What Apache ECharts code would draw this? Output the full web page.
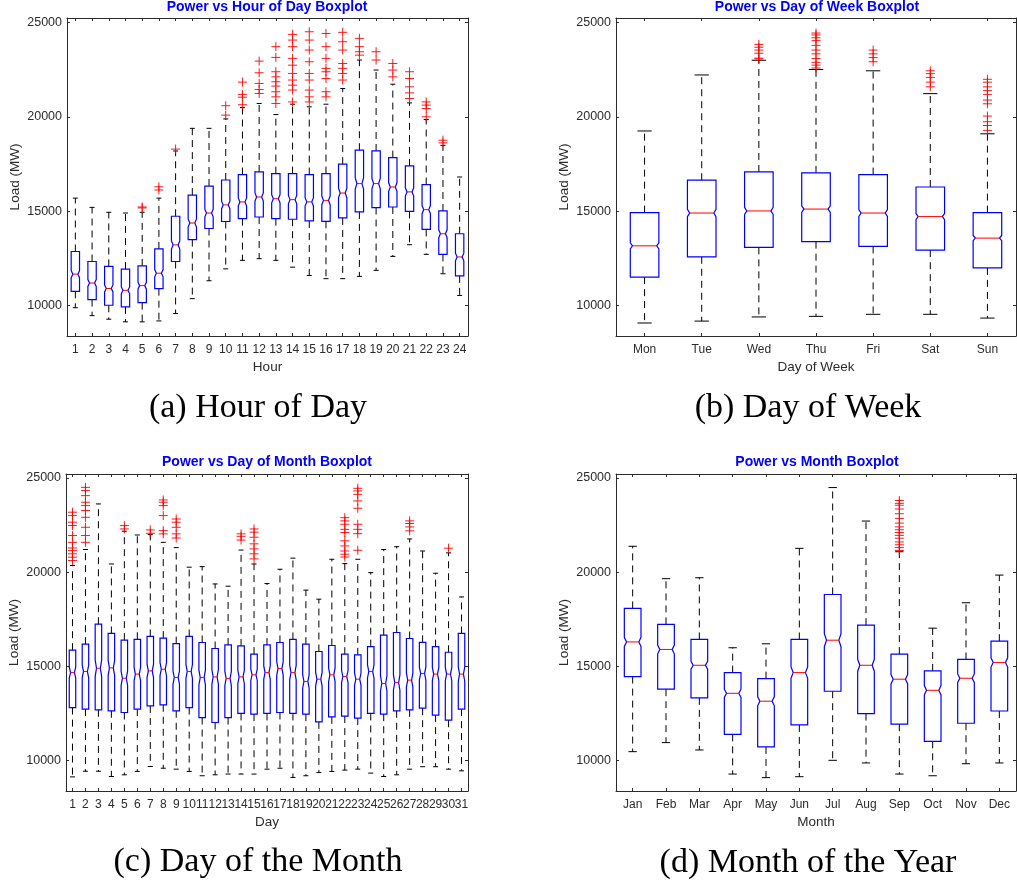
<!DOCTYPE html>
<html>
<head>
<meta charset="utf-8">
<script src="https://cdn.jsdelivr.net/npm/echarts@6/dist/echarts.min.js"></script>
<style>
  html, body { margin: 0; padding: 0; background: #ffffff; }
  #chart { width: 1017px; height: 886px; }
</style>
</head>
<body>
<div id="chart"></div>
<script>
// ---- category labels ----
const hourLabels = ['1','2','3','4','5','6','7','8','9','10','11','12','13','14','15','16','17','18','19','20','21','22','23','24'];
const weekLabels = ['Mon','Tue','Wed','Thu','Fri','Sat','Sun'];
const dayLabels = ['1','2','3','4','5','6','7','8','9','10','11','12','13','14','15','16','17','18','19','20','21','22','23','24','25','26','27','28','29','30','31'];
const monthLabels = ['Jan','Feb','Mar','Apr','May','Jun','Jul','Aug','Sep','Oct','Nov','Dec'];

// y-axis tick values (MW)
const loadTicks = [10000, 15000, 20000, 25000];

// ---- box statistics: [lower whisker, Q1, median, Q3, upper whisker] (MW) ----
const hourStats = [
  [9890, 10760, 11670, 12870, 15700],
  [9470, 10320, 11200, 12340, 15210],
  [9280, 10020, 10910, 12080, 14950],
  [9140, 9930, 10810, 11940, 14910],
  [9140, 10160, 11060, 12110, 14950],
  [9190, 10900, 11720, 13010, 15700],
  [9580, 12340, 13220, 14740, 18200],
  [10370, 13500, 14380, 15860, 19400],
  [11320, 14090, 14910, 16340, 19400],
  [11950, 14460, 15340, 16660, 19900],
  [12400, 14610, 15500, 16950, 20500],
  [12490, 14700, 15760, 17090, 20720],
  [12400, 14610, 15670, 17000, 20130],
  [12040, 14580, 15620, 17000, 20680],
  [11600, 14490, 15500, 16950, 20540],
  [11430, 14470, 15580, 17000, 20680],
  [11430, 14650, 15970, 17500, 21510],
  [11550, 14970, 16470, 18240, 23020],
  [11870, 15200, 16470, 18200, 22490],
  [12610, 15230, 16290, 17850, 21740],
  [13230, 15000, 16030, 17410, 20750],
  [12720, 14040, 15090, 16420, 19870],
  [11690, 12720, 13810, 15020, 18500],
  [10540, 11580, 12580, 13810, 16820]
];
const hourOutliers = [
  [], [], [], [], [15180, 15230], [16130, 16300], [18300], [], [], [20100, 20600],
  [20650, 21050, 21200, 21850],
  [21250, 21460, 21780, 22345, 22965],
  [20720, 21070, 21340, 21640, 21870, 22130, 22400, 23160, 23730],
  [20800, 21430, 21690, 21960, 22310, 22750, 23110, 23730, 24080, 24380],
  [20800, 21070, 21430, 21960, 22310, 22930, 23550, 24080, 24520],
  [21070, 21340, 22040, 22400, 22580, 23110, 23730, 24430],
  [21960, 22310, 22580, 22840, 23550, 23990, 24490],
  [23280, 23460, 23730, 24170],
  [23020, 23460],
  [22130, 22490, 22840],
  [20980, 21280, 21600, 22040, 22400],
  [20010, 20450, 20630, 20800],
  [18630, 18770],
  []
];

const weekStats = [
  [9080, 11510, 13170, 14930, 19260],
  [9180, 12590, 14910, 16650, 22230],
  [9400, 13090, 15020, 17090, 23010],
  [9430, 13390, 15120, 17040, 22520],
  [9540, 13140, 14910, 16950, 22450],
  [9540, 12940, 14720, 16290, 21240],
  [9340, 12000, 13580, 14930, 19110]
];
const weekOutliers = [
  [],
  [],
  [23080, 23120, 23380, 23550, 23700, 23850],
  [22600, 22750, 22900, 23100, 23350, 23550, 23800, 24050, 24200, 24350, 24450],
  [22930, 23150, 23350, 23550],
  [21600, 21850, 22100, 22300, 22450],
  [19290, 19550, 19750, 20050, 20700, 20900, 21200, 21400, 21600, 21850, 22000]
];

const dayStats = [
  [9120, 12800, 14660, 15850, 20350],
  [9420, 12720, 14720, 16170, 21200],
  [9420, 12680, 14890, 17230, 23620],
  [9140, 12630, 14910, 16740, 20430],
  [9230, 12540, 14360, 16380, 22170],
  [9410, 12720, 14580, 16430, 21970],
  [9670, 12890, 14750, 16580, 21990],
  [9580, 12950, 14840, 16490, 21580],
  [9530, 12630, 14400, 16200, 21300],
  [9410, 12800, 14720, 16580, 20260],
  [9180, 12270, 14400, 16260, 20290],
  [9230, 12010, 14430, 15940, 19370],
  [9270, 12270, 14350, 16130, 19250],
  [9270, 12490, 14430, 16080, 21170],
  [9270, 12450, 14540, 15640, 20430],
  [9530, 12490, 14660, 16130, 19390],
  [9580, 12540, 14880, 16260, 20150],
  [9090, 12490, 14660, 16420, 20740],
  [9180, 12450, 14190, 16170, 19040],
  [9350, 12040, 14310, 15780, 18560],
  [9410, 12310, 14540, 16100, 20680],
  [9480, 12350, 14450, 15640, 20450],
  [9530, 12240, 14310, 15600, 20680],
  [9320, 12490, 14720, 16040, 19970],
  [9140, 12450, 14080, 16650, 21200],
  [9230, 12630, 14130, 16790, 21350],
  [9530, 12680, 14260, 16470, 21760],
  [9660, 12770, 14610, 16270, 21120],
  [9660, 12400, 14580, 16040, 19940],
  [9530, 12130, 14580, 15740, 21020],
  [9440, 12720, 14580, 16740, 18680]
];
const dayOutliers = [
  [20610, 20790, 20970, 21140, 21280, 21580, 21940, 22470, 22650, 23000, 23180],
  [21580, 21940, 22380, 22910, 23270, 23530, 23710, 24060, 24330, 24500],
  [], [],
  [22290, 22470],
  [],
  [22060, 22240],
  [22030, 22200, 23000, 23530, 23710, 23830],
  [21810, 22030, 22380, 22650, 22820],
  [], [], [], [],
  [21700, 21900, 22030],
  [20700, 20970, 21230, 21500, 21850, 22120, 22290],
  [], [], [], [], [], [],
  [20800, 20950, 21120, 21390, 21660, 22100, 22270, 22540, 22720, 22890],
  [21160, 22040, 22270, 22540, 23390, 23780, 24130, 24310, 24450],
  [], [], [],
  [22190, 22400, 22580, 22720],
  [], [],
  [21270],
  []
];

const monthStats = [
  [10460, 14450, 16290, 18070, 21370],
  [10940, 13780, 15890, 17220, 19650],
  [10550, 13320, 15050, 16420, 19700],
  [9270, 11380, 13560, 14660, 15980],
  [9080, 10710, 13140, 14340, 16190],
  [9130, 11880, 14660, 16420, 21260],
  [10000, 13670, 16380, 18810, 24490],
  [9860, 12480, 15050, 17180, 22710],
  [9270, 11920, 14310, 15640, 21080],
  [9180, 11010, 13720, 14750, 17020],
  [9820, 11970, 14360, 15360, 18370],
  [9860, 12620, 15200, 16330, 19840]
];
const monthOutliers = [
  [], [], [], [], [], [], [], [],
  [21150, 21300, 21450, 21600, 21800, 21950, 22100, 22250, 22400, 22600, 22850, 23100, 23350, 23550, 23650, 23800],
  [], [], []
];

// samples per group, used for the notch half-height 1.57 * IQR / sqrt(n)
const hourCount = 300;
const weekCount = 1100;
const dayCount = 260;
const monthCount = 550;

// ---- drawing ----
const FONT = '"Liberation Sans", Arial, Helvetica, sans-serif';
const AXIS_COLOR = '#2b2b2b';
const BOX_BLUE = '#0000ff';
const MEDIAN_RED = '#ff0000';

const panels = [
  { labels: hourLabels, stats: hourStats, outliers: hourOutliers, count: hourCount,
    title: 'Power vs Hour of Day Boxplot', xName: 'Hour', caption: '(a) Hour of Day',
    rect: { left: 67, top: 18, width: 401, height: 318 }, yMin: 8390, yMax: 25250,
    titleAt: [267, 7], captionAt: [258, 408] },
  { labels: weekLabels, stats: weekStats, outliers: weekOutliers, count: weekCount,
    title: 'Power vs Day of Week Boxplot', xName: 'Day of Week', caption: '(b) Day of Week',
    rect: { left: 616, top: 18, width: 400, height: 318 }, yMin: 8390, yMax: 25250,
    titleAt: [817, 7], captionAt: [808, 408] },
  { labels: dayLabels, stats: dayStats, outliers: dayOutliers, count: dayCount,
    title: 'Power vs Day of Month Boxplot', xName: 'Day', caption: '(c) Day of the Month',
    rect: { left: 66, top: 474, width: 402, height: 317 }, yMin: 8370, yMax: 25210,
    titleAt: [267, 462], captionAt: [258, 862] },
  { labels: monthLabels, stats: monthStats, outliers: monthOutliers, count: monthCount,
    title: 'Power vs Month Boxplot', xName: 'Month', caption: '(d) Month of the Year',
    rect: { left: 616, top: 474, width: 400, height: 317 }, yMin: 8370, yMax: 25210,
    titleAt: [817, 462], captionAt: [808, 863] }
];

function notchedBox(count) {
  return function (params, api) {
    const idx = api.value(0);
    const lo = api.value(1), q1 = api.value(2), med = api.value(3), q3 = api.value(4), hi = api.value(5);
    const band = api.size([1, 0])[0];
    const w = band * 0.25;          // half box width
    const cw = Math.max(2.5, band * 0.125);   // half whisker-cap width
    const ind = Math.min(2.2, w * 0.4);
    const notch = 1.57 * (q3 - q1) / Math.sqrt(count);
    const at = v => api.coord([idx, v]);
    const cx = at(med)[0];
    const yLo = at(lo)[1], yQ1 = at(q1)[1], yMed = at(med)[1], yQ3 = at(q3)[1], yHi = at(hi)[1];
    const yNl = at(med - notch)[1], yNh = at(med + notch)[1];
    const dash = { stroke: '#000', lineWidth: 1, lineDash: [7, 5] };
    const solid = { stroke: '#000', lineWidth: 1 };
    return {
      type: 'group',
      children: [
        { type: 'line', shape: { x1: cx, y1: yQ3, x2: cx, y2: yHi }, style: dash },
        { type: 'line', shape: { x1: cx, y1: yQ1, x2: cx, y2: yLo }, style: dash },
        { type: 'line', shape: { x1: cx - cw, y1: yHi, x2: cx + cw, y2: yHi }, style: solid },
        { type: 'line', shape: { x1: cx - cw, y1: yLo, x2: cx + cw, y2: yLo }, style: solid },
        { type: 'polygon',
          shape: { points: [
            [cx - w, yQ1], [cx - w, yNl], [cx - w + ind, yMed], [cx - w, yNh], [cx - w, yQ3],
            [cx + w, yQ3], [cx + w, yNh], [cx + w - ind, yMed], [cx + w, yNl], [cx + w, yQ1]
          ] },
          style: { fill: 'none', stroke: BOX_BLUE, lineWidth: 1.2 } },
        { type: 'line', shape: { x1: cx - w + ind, y1: yMed, x2: cx + w - ind, y2: yMed },
          style: { stroke: MEDIAN_RED, lineWidth: 1 } }
      ]
    };
  };
}

function plusMark(params, api) {
  const p = api.coord([api.value(0), api.value(1)]);
  const a = 4.5;
  const st = { stroke: MEDIAN_RED, lineWidth: 1, opacity: 0.9 };
  return {
    type: 'group',
    children: [
      { type: 'line', shape: { x1: p[0] - a, y1: p[1], x2: p[0] + a, y2: p[1] }, style: st },
      { type: 'line', shape: { x1: p[0], y1: p[1] - a, x2: p[0], y2: p[1] + a }, style: st }
    ]
  };
}

const grid = [], xAxis = [], yAxis = [], series = [], graphic = [];

panels.forEach((pn, i) => {
  grid.push(Object.assign({ containLabel: false }, pn.rect));

  const tickStyle = { lineStyle: { color: AXIS_COLOR, width: 1 } };
  const lineStyle = { show: true, onZero: false, lineStyle: { color: AXIS_COLOR, width: 1 } };

  // bottom category axis
  xAxis.push({
    gridIndex: i, type: 'category', data: pn.labels, position: 'bottom', boundaryGap: true,
    axisLine: lineStyle,
    axisTick: Object.assign({ show: true, inside: true, alignWithLabel: true, interval: 0, length: 3 }, tickStyle),
    axisLabel: { interval: 0, fontSize: 12, color: AXIS_COLOR, fontFamily: FONT, margin: 8 },
    splitLine: { show: false },
    name: pn.xName, nameLocation: 'middle', nameGap: 24,
    nameTextStyle: { fontSize: 13.5, color: AXIS_COLOR, fontFamily: FONT }
  });
  // top mirror axis (box border with ticks)
  xAxis.push({
    gridIndex: i, type: 'category', data: pn.labels, position: 'top', boundaryGap: true,
    axisLine: lineStyle,
    axisTick: Object.assign({ show: true, inside: true, alignWithLabel: true, interval: 0, length: 3 }, tickStyle),
    axisLabel: { show: false }, splitLine: { show: false }
  });
  // left value axis
  yAxis.push({
    gridIndex: i, type: 'value', min: pn.yMin, max: pn.yMax, position: 'left',
    axisLine: lineStyle,
    axisTick: Object.assign({ show: true, inside: true, length: 3, customValues: loadTicks }, tickStyle),
    axisLabel: { customValues: loadTicks, fontSize: 12.5, color: AXIS_COLOR, fontFamily: FONT, margin: 5,
                 formatter: v => String(v) },
    splitLine: { show: false },
    name: 'Load (MW)', nameLocation: 'middle', nameGap: 45, nameRotate: 90,
    nameTextStyle: { fontSize: 13.5, color: AXIS_COLOR, fontFamily: FONT }
  });
  // right mirror axis
  yAxis.push({
    gridIndex: i, type: 'value', min: pn.yMin, max: pn.yMax, position: 'right',
    axisLine: lineStyle,
    axisTick: Object.assign({ show: true, inside: true, length: 3, customValues: loadTicks }, tickStyle),
    axisLabel: { show: false }, splitLine: { show: false }
  });

  series.push({
    type: 'custom', name: pn.title,
    xAxisIndex: i * 2, yAxisIndex: i * 2,
    renderItem: notchedBox(pn.count),
    encode: { x: 0, y: [1, 2, 3, 4, 5] },
    data: pn.stats.map((s, k) => [k].concat(s)),
    silent: true
  });

  const pts = [];
  pn.outliers.forEach((list, k) => list.forEach(v => pts.push([k, v])));
  series.push({
    type: 'custom', name: pn.title + ' outliers',
    xAxisIndex: i * 2, yAxisIndex: i * 2,
    renderItem: plusMark,
    encode: { x: 0, y: 1 },
    data: pts,
    silent: true
  });

  graphic.push({
    type: 'text', x: pn.titleAt[0], y: pn.titleAt[1],
    style: { text: pn.title, fill: BOX_BLUE, font: 'bold 14px ' + FONT, align: 'center', verticalAlign: 'middle' }
  });
  graphic.push({
    type: 'text', x: pn.captionAt[0], y: pn.captionAt[1],
    style: { text: pn.caption, fill: '#000000', font: '34px "Liberation Serif", "Times New Roman", serif',
             align: 'center', verticalAlign: 'middle' }
  });
});

const chart = echarts.init(document.getElementById('chart'), null, { renderer: 'canvas' });
chart.setOption({
  backgroundColor: '#ffffff',
  animation: false,
  grid, xAxis, yAxis, series, graphic
});
</script>
</body>
</html>
